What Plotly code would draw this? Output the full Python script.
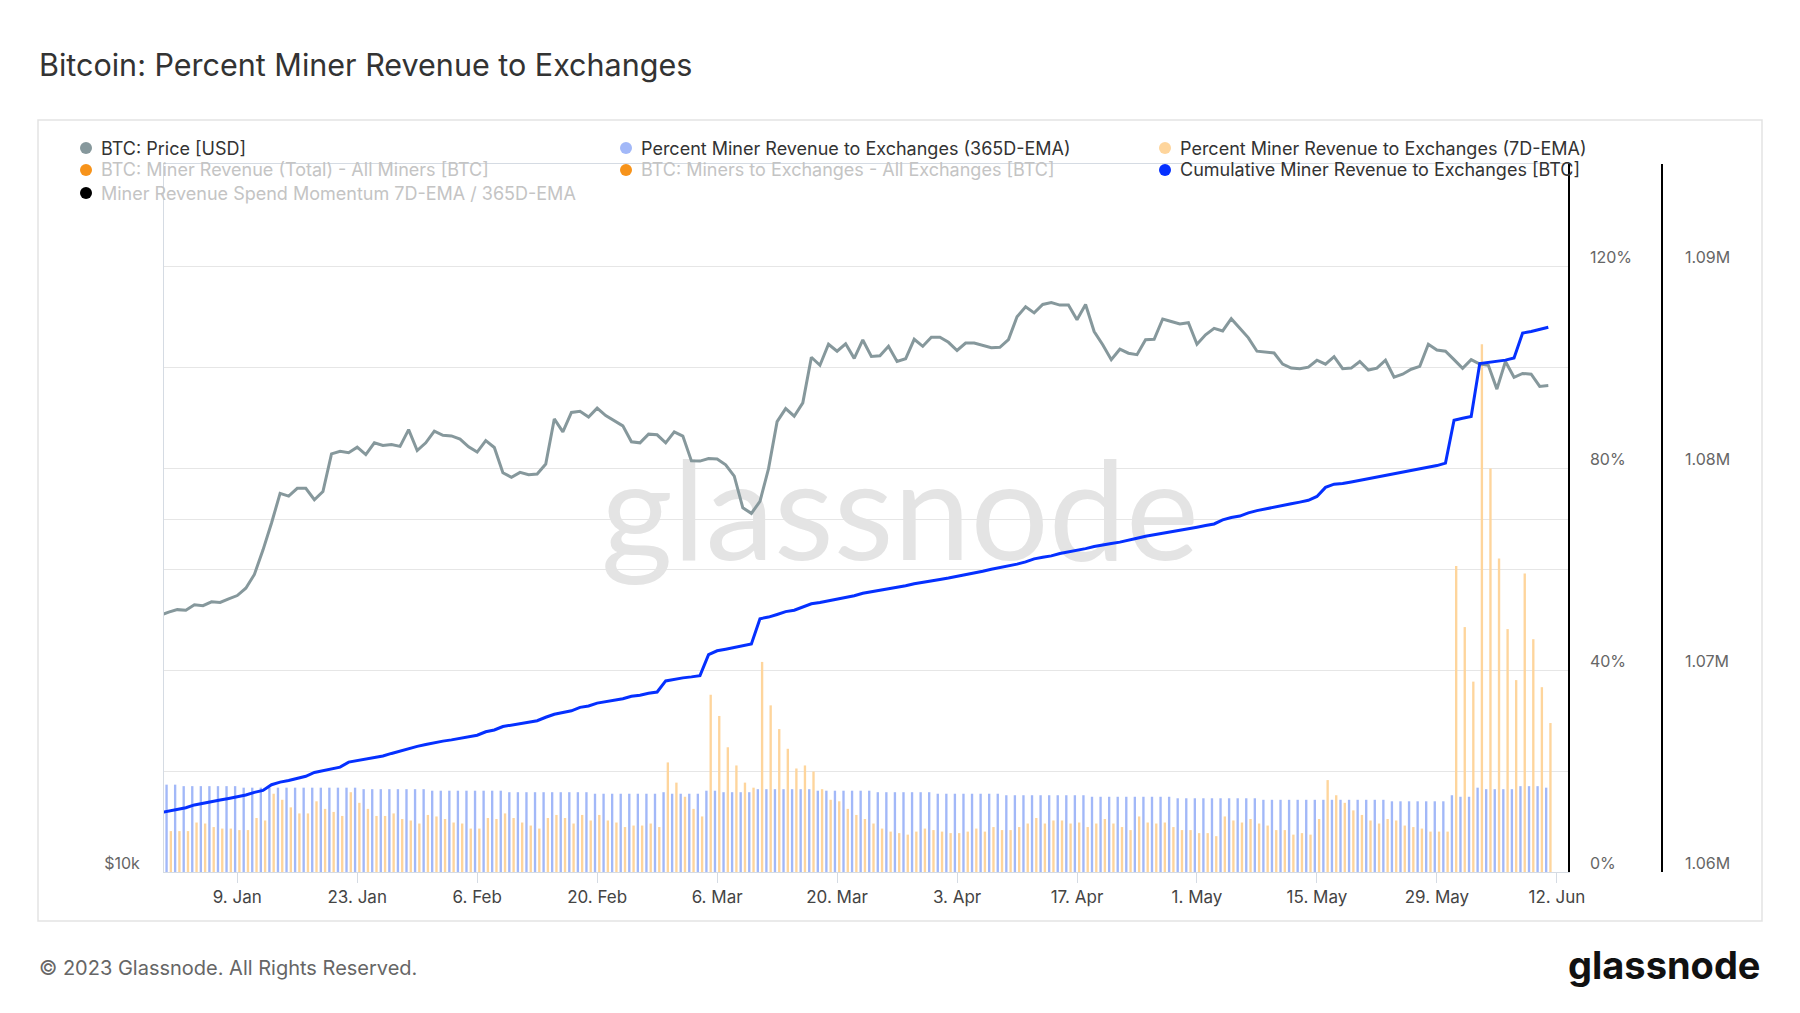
import pandas as pd
import plotly.graph_objects as go

# ---------------- data ----------------
dates = pd.date_range("2022-12-31", "2023-06-11", freq="D")

price_usd = [
    16560,
    16670, 16750, 16730, 16910, 16880, 17010, 16990, 17110, 17220, 17470,
    17950, 18830, 19860, 21050, 20940, 21260, 21260, 20790, 21130, 22750,
    22870, 22800, 23050, 22720, 23250, 23130, 23170, 23090,
    23860, 22900, 23250, 23790, 23600, 23570, 23420, 23070, 22830, 23350,
    23040, 21920, 21730, 21940, 21840, 21870, 22300, 24370, 23760, 24680,
    24740, 24460, 24890, 24530, 24300, 24040, 23300,
    23250, 23650, 23620, 23250, 23760, 23560, 22440, 22430, 22540, 22520,
    22270, 21780, 20460, 20240, 20720, 22100, 24240, 24870, 24500, 25150,
    27510, 27080, 28220, 27840, 28250, 27450, 28460,
    27550, 27590, 28110, 27280, 27430, 28500, 28110, 28610, 28610, 28330,
    27880, 28290, 28290, 28160, 28030, 28050, 28480, 29790, 30380, 30020,
    30520, 30630, 30480, 30480, 29610, 30520, 28940,
    28200, 27380, 27950, 27730, 27650, 28480, 28500, 29660, 29510, 29370,
    29440, 28220, 28750, 29120, 28970, 29680, 29120, 28580, 27840, 27780,
    27740, 27140, 26930, 26900, 26980, 27350, 27140, 27540,
    26900, 26930, 27280, 26830, 26930, 27350, 26450, 26610, 26870, 27020,
    28220, 27900, 27840, 27380, 26920, 27380, 27140, 27080, 25840, 27280,
    26450, 26650, 26610, 25980, 26020,
]

pct_365d_ema = [
    17.3,
    17.3, 17.3, 17.0, 17.0, 17.0, 17.0, 17.0, 17.0, 17.0, 16.7,
    16.7, 16.7, 16.7, 16.7, 16.7, 16.7, 16.7, 16.7, 16.7, 16.7,
    16.7, 16.7, 16.7, 16.4, 16.4, 16.4, 16.4, 16.4,
    16.4, 16.4, 16.4, 16.1, 16.1, 16.1, 16.1, 16.1, 16.1, 16.1,
    16.1, 16.1, 15.8, 15.8, 15.8, 15.8, 15.8, 15.8, 15.8, 15.8,
    15.8, 15.8, 15.5, 15.5, 15.5, 15.5, 15.5,
    15.5, 15.5, 15.5, 15.8, 15.5, 15.5, 15.5, 15.5, 16.1, 16.1,
    15.8, 15.8, 15.8, 15.8, 16.4, 16.4, 16.4, 16.4, 16.4, 16.4,
    16.4, 16.1, 16.1, 16.1, 16.1, 16.1, 16.1,
    16.1, 15.8, 15.8, 15.8, 15.8, 15.8, 15.8, 15.8, 15.5, 15.5,
    15.5, 15.5, 15.5, 15.5, 15.5, 15.5, 15.2, 15.2, 15.2, 15.2,
    15.2, 15.2, 15.2, 15.2, 15.2, 15.2, 14.9,
    14.9, 14.9, 14.9, 14.9, 14.9, 14.9, 14.9, 14.9, 14.9, 14.6,
    14.6, 14.6, 14.6, 14.6, 14.6, 14.6, 14.6, 14.6, 14.6, 14.3,
    14.3, 14.3, 14.3, 14.3, 14.3, 14.3, 14.3, 14.3,
    14.3, 14.3, 14.3, 14.3, 14.3, 14.3, 14.0, 14.0, 14.0, 14.0,
    14.0, 14.0, 14.0, 15.2, 14.9, 14.9, 16.7, 16.4, 16.4, 16.4,
    16.4, 17.0, 17.0, 17.0, 16.7,
]

pct_7d_ema = [
    8.1,
    8.1, 8.1, 8.1, 9.8, 9.6, 8.9, 8.6, 8.6, 8.3, 8.3,
    10.7, 10.2, 15.5, 14.3, 12.8, 11.6, 11.6, 14.0, 12.5, 11.9,
    11.1, 15.8, 13.7, 12.5, 11.1, 11.1, 11.6,
    10.5, 10.2, 9.6, 11.3, 11.0, 10.5, 9.8, 9.6, 8.6, 8.6,
    10.7, 10.5, 11.6, 10.7, 9.8, 9.2, 8.6, 10.7, 11.3, 10.7,
    9.6, 11.3, 10.2, 11.3, 10.2, 9.8, 8.9, 9.2,
    9.2, 9.6, 8.9, 21.7, 17.7, 14.9, 12.5, 11.0, 35.1, 30.9,
    24.7, 21.1, 17.7, 16.7, 41.6, 33.0, 28.3, 24.4, 20.5, 21.1,
    19.9, 16.4, 14.3, 14.0, 12.5, 11.3, 10.5,
    9.6, 8.6, 8.0, 7.7, 7.4, 8.0, 8.6, 8.3, 8.0, 7.7,
    7.7, 8.0, 8.6, 8.0, 8.9, 8.3, 8.3, 8.9, 9.6, 10.7,
    9.6, 10.2, 10.2, 9.6, 9.8, 8.9, 9.6,
    10.5, 9.6, 8.9, 8.3, 11.0, 9.8, 9.6, 9.8, 8.9, 8.3,
    8.3, 7.7, 7.7, 7.1, 11.0, 10.2, 9.8, 10.5, 9.6, 9.2,
    8.3, 8.3, 7.4, 7.7, 7.4, 10.5, 18.2, 15.2,
    13.7, 12.2, 11.3, 10.2, 9.6, 10.5, 10.2, 9.2, 8.9, 8.6,
    8.0, 8.0, 8.0, 60.6, 48.5, 37.7, 104.5, 79.9, 62.1, 48.1,
    38.0, 59.1, 46.1, 36.6, 29.5,
]

cumulative_btc = [
    1062930,
    1063010, 1063090, 1063180, 1063320, 1063390, 1063470, 1063560, 1063640, 1063710, 1063810,
    1063940, 1064040, 1064320, 1064450, 1064530, 1064620, 1064740, 1064930, 1065020, 1065100,
    1065190, 1065440, 1065510, 1065570, 1065650, 1065740, 1065870, 1065990,
    1066120, 1066220, 1066310, 1066400, 1066480, 1066540, 1066610, 1066690, 1066770, 1066940,
    1067030, 1067200, 1067280, 1067330, 1067410, 1067490, 1067660, 1067810, 1067900, 1067980,
    1068150, 1068220, 1068360, 1068430, 1068510, 1068580, 1068700,
    1068750, 1068850, 1068910, 1069460, 1069550, 1069610, 1069660, 1069720, 1070760, 1070950,
    1071030, 1071120, 1071200, 1071290, 1072540, 1072620, 1072750, 1072890, 1072960, 1073110,
    1073280, 1073340, 1073420, 1073530, 1073610, 1073680, 1073800,
    1073870, 1073950, 1074020, 1074100, 1074170, 1074270, 1074350, 1074420, 1074480, 1074550,
    1074630, 1074720, 1074820, 1074890, 1074990, 1075070, 1075140, 1075240, 1075350, 1075500,
    1075580, 1075650, 1075770, 1075840, 1075920, 1076010, 1076110, 1076200,
    1076260, 1076330, 1076410, 1076520, 1076620, 1076690, 1076770, 1076850, 1076920, 1077000,
    1077070, 1077150, 1077230, 1077430, 1077550, 1077620, 1077780, 1077890, 1077980, 1078080,
    1078170, 1078230, 1078310, 1078400, 1078590, 1079040, 1079200,
    1079230, 1079310, 1079390, 1079460, 1079540, 1079630, 1079710, 1079780, 1079860, 1079970,
    1080050, 1080120, 1080240, 1082360, 1082460, 1082550, 1085170, 1085220, 1085280, 1085340,
    1085450, 1086680, 1086760, 1086850, 1086970,
]

x_tick_dates = pd.date_range("2023-01-09", "2023-06-12", freq="14D")
x_tick_labels = ["9. Jan", "23. Jan", "6. Feb", "20. Feb", "6. Mar", "20. Mar",
                 "3. Apr", "17. Apr", "1. May", "15. May", "29. May", "12. Jun"]
pct_ticks = [0, 20, 40, 60, 80, 100, 120]
pct_tick_labels = ["0%", "", "40%", "", "80%", "", "120%"]
cum_ticks = [1060000, 1070000, 1080000, 1090000]
cum_tick_labels = ["1.06M", "1.07M", "1.08M", "1.09M"]
price_ticks = [10000, 20000]
price_tick_labels = ["$10k", ""]

legend_names = [
    "BTC: Price [USD]",
    "Percent Miner Revenue to Exchanges (365D-EMA)",
    "Percent Miner Revenue to Exchanges (7D-EMA)",
    "BTC: Miner Revenue (Total) - All Miners [BTC]",
    "BTC: Miners to Exchanges - All Exchanges [BTC]",
    "Cumulative Miner Revenue to Exchanges [BTC]",
    "Miner Revenue Spend Momentum 7D-EMA / 365D-EMA",
]
legend_active = [True, True, True, False, False, True, False]

# ---------------- styling ----------------
C_PRICE = "#86989c"
C_365 = "#a2b8f8"
C_7D = "#fed59c"
C_CUM = "#0530ff"
legend_dot_colors = [C_PRICE, C_365, C_7D, "#f7931a", "#f7931a", C_CUM, "#000000"]
FONT = "Inter"

# page body adds an 8px margin; all layout targets below are screen pixels
OFF = 8
W, H = 1800 - 2 * OFF, 1013 - 2 * OFF
PLOT_L, PLOT_R, PLOT_T, PLOT_B = 164, 1568, 164, 872   # screen px
CUM_AXIS_X = 1662                                       # screen px
ML = PLOT_L - OFF
MT = PLOT_T - OFF
MB = H - (PLOT_B - OFF)
MR = W - (CUM_AXIS_X - OFF)
PW, PH = W - ML - MR, H - MT - MB


def px(x):
    return (x - OFF - ML) / PW


def py(y):
    return (H - MB - (y - OFF)) / PH


x_start = pd.Timestamp("2022-12-31 10:50")
x_end = pd.Timestamp("2023-06-13 07:10")
wm_x = x_start + (900 - PLOT_L) / (PLOT_R - PLOT_L) * (x_end - x_start)

fig = go.Figure()

# watermark (drawn first, below data)
fig.add_trace(go.Scatter(
    x=[wm_x], y=[0.49], mode="text", text=["glassnode"],
    textfont=dict(family="Lato", size=138, color="#e4e4e4"),
    textposition="middle center", hoverinfo="skip", showlegend=False,
    xaxis="x", yaxis="y"))

fig.add_trace(go.Bar(
    x=dates, y=pct_365d_ema, marker=dict(color=C_365, line_width=0),
    name=legend_names[1], showlegend=False, xaxis="x", yaxis="y2"))
fig.add_trace(go.Bar(
    x=dates, y=pct_7d_ema, marker=dict(color=C_7D, line_width=0),
    name=legend_names[2], showlegend=False, xaxis="x", yaxis="y2"))

fig.add_trace(go.Scatter(
    x=dates, y=price_usd, mode="lines", line=dict(color=C_PRICE, width=3),
    name=legend_names[0], showlegend=False, xaxis="x", yaxis="y3"))

fig.add_trace(go.Scatter(
    x=dates, y=cumulative_btc, mode="lines", line=dict(color=C_CUM, width=3),
    name=legend_names[5], showlegend=False, xaxis="x", yaxis="y4"))

grid_c = "#e6e6e6"
axis_font = dict(family=FONT, size=16, color="#666666")

fig.update_layout(
    width=W, height=H,
    margin=dict(l=ML, r=MR, t=MT, b=MB, pad=0),
    paper_bgcolor="white", plot_bgcolor="white",
    showlegend=False,
    barmode="group", bargap=0.0, bargroupgap=0.45,
    font=dict(family=FONT, color="#333333"),
    xaxis=dict(
        domain=[0, (PLOT_R - PLOT_L) / PW], type="date",
        range=[x_start, x_end],
        tickvals=list(x_tick_dates), ticktext=x_tick_labels,
        showgrid=False, zeroline=False,
        showline=True, linecolor="#d5dbe3", linewidth=1, mirror=True,
        ticks="outside", ticklen=10, tickcolor="#d5dbe3", tickwidth=1,
        tickfont=dict(family=FONT, size=17, color="#444444"),
        ticklabelstandoff=0,
    ),
    yaxis=dict(range=[0, 1], visible=False, fixedrange=True),
    yaxis2=dict(
        overlaying="y", side="right", anchor="x",
        range=[0, 140.2], tickvals=pct_ticks, ticktext=pct_tick_labels,
        showgrid=True, gridcolor=grid_c, gridwidth=1, zeroline=False,
        showline=True, linecolor="#000000", linewidth=1.5,
        ticks="", tickfont=axis_font, ticklabelshift=-9, ticklabelstandoff=17,
    ),
    yaxis3=dict(
        overlaying="y", side="left", anchor="x", type="log",
        range=[4, 4.6045], tickvals=price_ticks, ticktext=price_tick_labels,
        showgrid=True, gridcolor=grid_c, gridwidth=1, zeroline=False,
        showline=True, linecolor="#d5dbe3", linewidth=1,
        ticks="", tickfont=axis_font, ticklabelshift=-9, ticklabelstandoff=20,
    ),
    yaxis4=dict(
        overlaying="y", side="right", anchor="free", position=1.0,
        range=[1060000, 1095050], tickvals=cum_ticks, ticktext=cum_tick_labels,
        showgrid=False, zeroline=False,
        showline=True, linecolor="#000000", linewidth=1.5,
        ticks="", tickfont=axis_font, ticklabelshift=-9, ticklabelstandoff=19,
    ),
)

shapes = [
    dict(type="rect", xref="paper", yref="paper",
         x0=px(38), x1=px(1762), y0=py(921), y1=py(120),
         line=dict(color="#e3e3e3", width=1.5), fillcolor="rgba(0,0,0,0)", layer="below"),
]
annotations = [
    dict(text="Bitcoin: Percent Miner Revenue to Exchanges", xref="paper", yref="paper",
         x=px(37), y=py(64), xanchor="left", yanchor="middle", showarrow=False,
         font=dict(family=FONT, size=30.5, color="#333333")),
    dict(text="© 2023 Glassnode. All Rights Reserved.", xref="paper", yref="paper",
         x=px(37), y=py(968), xanchor="left", yanchor="middle", showarrow=False,
         font=dict(family=FONT, size=20, color="#666666")),
    dict(text="<b>glassnode</b>", xref="paper", yref="paper",
         x=px(1763), y=py(965), xanchor="right", yanchor="middle", showarrow=False,
         font=dict(family=FONT, size=38, color="#111111")),
]

col_dot_x = [86, 626, 1165]
row_y = [148, 170, 193]
for i, (name, active, col) in enumerate(zip(legend_names, legend_active, legend_dot_colors)):
    cx = col_dot_x[i % 3]
    cy = row_y[i // 3]
    shapes.append(dict(type="circle", xref="paper", yref="paper",
                       xsizemode="pixel", ysizemode="pixel",
                       xanchor=px(cx), yanchor=py(cy), x0=-6, x1=6, y0=-6, y1=6,
                       fillcolor=col, line=dict(width=0)))
    annotations.append(dict(text=name, xref="paper", yref="paper",
                            x=px(cx + 13), y=py(cy), xanchor="left", yanchor="middle",
                            showarrow=False,
                            font=dict(family=FONT, size=18,
                                      color="#333333" if active else "#c4c4c4")))

fig.update_layout(shapes=shapes, annotations=annotations)

fig.write_html("out.html")
